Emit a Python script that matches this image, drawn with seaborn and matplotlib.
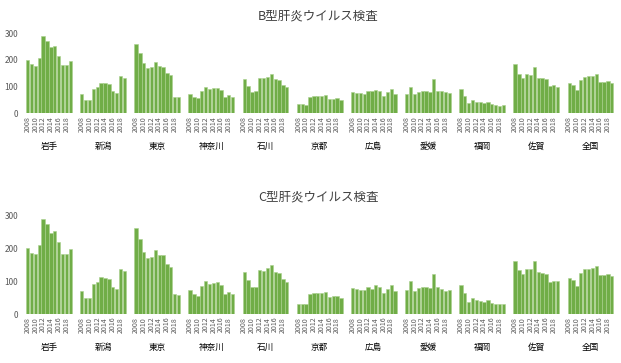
import matplotlib
matplotlib.use("Agg")
import matplotlib.pyplot as plt
import pandas as pd
import seaborn as sns

# Survey years and regions
years = list(range(2008, 2020))
regions = ["岩手", "新潟", "東京", "神奈川", "石川", "京都", "広島", "愛媛", "福岡", "佐賀", "全国"]

# B型肝炎ウイルス検査 (per region, 2008-2019)
b_iwate = [200, 184, 179, 206, 291, 272, 247, 252, 215, 180, 180, 198]
b_niigata = [72, 50, 50, 91, 99, 112, 112, 109, 84, 76, 140, 131]
b_tokyo = [259, 227, 189, 169, 175, 191, 179, 175, 150, 144, 60, 60]
b_kanagawa = [72, 60, 56, 85, 99, 91, 95, 95, 88, 62, 69, 62]
b_ishikawa = [128, 103, 80, 83, 134, 131, 136, 146, 130, 124, 108, 98]
b_kyoto = [35, 35, 30, 61, 66, 66, 66, 69, 52, 52, 56, 50]
b_hiroshima = [79, 75, 75, 71, 85, 85, 88, 82, 65, 79, 91, 72]
b_ehime = [72, 97, 72, 79, 85, 85, 79, 130, 82, 82, 80, 75]
b_fukuoka = [91, 65, 38, 50, 44, 41, 38, 44, 34, 31, 28, 31]
b_saga = [184, 148, 131, 148, 144, 173, 134, 134, 128, 103, 106, 99]
b_national = [112, 105, 89, 125, 136, 140, 140, 146, 118, 118, 121, 115]

# C型肝炎ウイルス検査 (per region, 2008-2019)
c_iwate = [202, 185, 182, 211, 290, 275, 247, 254, 219, 182, 182, 199]
c_niigata = [71, 50, 50, 92, 98, 113, 110, 107, 81, 76, 138, 131]
c_tokyo = [261, 228, 189, 171, 175, 194, 181, 179, 153, 143, 60, 58]
c_kanagawa = [73, 60, 55, 84, 101, 92, 94, 97, 88, 62, 68, 62]
c_ishikawa = [129, 103, 81, 81, 133, 131, 139, 150, 128, 125, 107, 97]
c_kyoto = [32, 32, 32, 62, 65, 65, 65, 68, 53, 55, 55, 50]
c_hiroshima = [78, 75, 73, 73, 83, 76, 88, 83, 65, 76, 88, 71]
c_ehime = [73, 101, 71, 78, 83, 83, 78, 123, 81, 76, 71, 73]
c_fukuoka = [88, 65, 37, 48, 42, 40, 38, 43, 35, 30, 30, 30]
c_saga = [163, 133, 121, 136, 136, 163, 128, 126, 123, 98, 100, 100]
c_national = [110, 104, 86, 126, 138, 138, 141, 146, 118, 118, 123, 115]

hep_b = [b_iwate, b_niigata, b_tokyo, b_kanagawa, b_ishikawa, b_kyoto,
         b_hiroshima, b_ehime, b_fukuoka, b_saga, b_national]
hep_c = [c_iwate, c_niigata, c_tokyo, c_kanagawa, c_ishikawa, c_kyoto,
         c_hiroshima, c_ehime, c_fukuoka, c_saga, c_national]

SLOTS = len(years) + 2  # bars per region plus a two-slot gap
GREEN = "#70AD47"
EDGE = "#A9D08E"
TEXT = "#595959"


def to_frame(series):
    rows = []
    for g, (region, vals) in enumerate(zip(regions, series)):
        for i, (yr, v) in enumerate(zip(years, vals)):
            rows.append({"region": region, "year": yr, "pos": g * SLOTS + i, "value": v})
    return pd.DataFrame(rows)


sns.set_theme(style="white")
plt.rcParams["font.family"] = ["Noto Sans CJK JP", "DejaVu Sans"]

W, H = 621, 363
fig = plt.figure(figsize=(W / 100, H / 100), dpi=100)
ax_b = fig.add_axes([23.8 / W, (H - 113.3) / H, 591.8 / W, 80 / H])
ax_c = fig.add_axes([23.8 / W, (H - 314) / H, 591.8 / W, 98.3 / H])

panels = [
    (ax_b, hep_b, "B型肝炎ウイルス検査", 16),
    (ax_c, hep_c, "C型肝炎ウイルス検査", 197),
]

n_pos = SLOTS * len(regions) - 2
for ax, series, title, title_px in panels:
    df = to_frame(series)
    sns.barplot(data=df, x="pos", y="value", native_scale=True, width=0.86,
                color=GREEN, saturation=1, edgecolor=EDGE, linewidth=0.4,
                errorbar=None, ax=ax)
    ax.set_xlim(-1, n_pos)
    ax.set_ylim(0, 300)
    ax.set_yticks([0, 100, 200, 300])
    ax.set_yticklabels(["0", "100", "200", "300"])

    tick_pos, tick_lab = [], []
    for g in range(len(regions)):
        for i, yr in enumerate(years):
            if yr % 2 == 0:
                tick_pos.append(g * SLOTS + i)
                tick_lab.append(str(yr))
    ax.set_xticks(tick_pos)
    ax.set_xticklabels(tick_lab, rotation=90)
    ax.tick_params(axis="x", length=0, pad=2.0, labelsize=5.1, labelcolor=TEXT)
    ax.tick_params(axis="y", length=0, pad=4.0, labelsize=6, labelcolor=TEXT)
    ax.set_xlabel("")
    ax.set_ylabel("")
    ax.grid(False)
    for s in ax.spines.values():
        s.set_visible(False)

    for g, region in enumerate(regions):
        ax.annotate(region, xy=(g * SLOTS + (len(years) - 1) / 2, 0),
                    xycoords=("data", "axes fraction"),
                    xytext=(0, -24), textcoords="offset points",
                    ha="center", va="center", fontsize=6.2, color="#000000")

    fig.text(318 / W, 1 - title_px / H, title, ha="center", va="center",
             fontsize=9, color="#404040")

fig.savefig("out.png", dpi=100)
